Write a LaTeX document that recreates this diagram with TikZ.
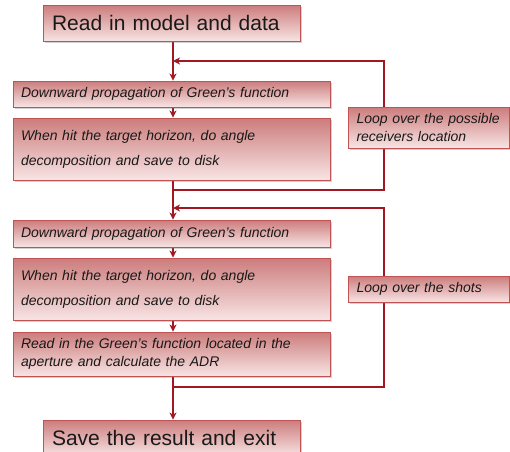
\documentclass[tikz,border=0pt]{standalone}
\usepackage{fontspec}
\setmainfont{Liberation Sans}
\usetikzlibrary{arrows.meta,shadows,backgrounds}
\definecolor{boxtop}{RGB}{204,124,124}
\definecolor{boxbot}{RGB}{248,228,228}
\definecolor{boxline}{RGB}{192,84,84}
\definecolor{conn}{RGB}{162,24,34}
\definecolor{txt}{RGB}{25,25,25}
\tikzset{
  box/.style={draw=boxline, line width=0.9pt, top color=boxtop, bottom color=boxbot,
    drop shadow={shadow xshift=1.5pt, shadow yshift=-1.5pt, opacity=0.3, fill=black!60},
    anchor=center, text=txt, align=left, inner ysep=2pt},
  bigbox/.style={box, minimum width=257pt, text width=239pt, inner xsep=9pt, minimum height=36pt,
    font=\fontsize{21}{25}\selectfont},
  smallbox/.style={box, minimum width=317pt, text width=301pt, inner xsep=8pt,
    font=\fontsize{14}{17.5}\selectfont\itshape},
  tallbox/.style={smallbox, font=\fontsize{14}{25}\selectfont\itshape},
  loopbox/.style={box, minimum width=161pt, text width=145pt, inner xsep=8pt,
    font=\fontsize{14}{17.5}\selectfont\itshape},
  conline/.style={draw=conn, line width=1.8pt},
  arr/.style={conline, -{Stealth[length=7pt,width=7pt,inset=2pt]}}
}
\begin{document}
\begin{tikzpicture}[x=1pt,y=-1pt]
\useasboundingbox (0,0) rectangle (510,451);
% nodes
\node[bigbox] (read) at (171.5,23) {Read in model and data};
\node[smallbox, minimum height=26pt] (dp1) at (171.5,94) {Downward propagation of Green's function};
\node[tallbox, minimum height=62pt] (hit1) at (171.5,149) {When hit the target horizon, do angle\\decomposition and save to disk};
\node[loopbox, minimum height=41pt] (loop1) at (429,127.5) {Loop over the possible\\receivers location};
\node[smallbox, minimum height=27pt] (dp2) at (171.5,233.5) {Downward propagation of Green's function};
\node[tallbox, minimum height=62pt] (hit2) at (171.5,289) {When hit the target horizon, do angle\\decomposition and save to disk};
\node[smallbox, minimum height=44pt] (rd) at (171.5,354) {Read in the Green's function located in the\\aperture and calculate the ADR};
\node[loopbox, minimum height=26pt] (loop2) at (429,289) {Loop over the shots};
\node[bigbox] (save) at (171.5,438) {Save the result and exit};
% junction coordinates
\coordinate (a1) at (173,61);
\coordinate (j1) at (173,190);
\coordinate (r1) at (384,190);
\coordinate (t1) at (384,61);
\coordinate (a2) at (173,208);
\coordinate (j2) at (173,387);
\coordinate (r2) at (384,387);
\coordinate (t2) at (384,208);
\begin{scope}[on background layer]
\draw[arr] (read.south -| a1) -- (dp1.north -| a1);
\draw[arr] (dp1.south -| a1) -- (hit1.north -| a1);
\draw[arr] (hit1.south -| a1) -- (dp2.north -| a1);
\draw[arr] (j1) -- (r1) -- (t1) -- (a1);
\draw[arr] (dp2.south -| a1) -- (hit2.north -| a1);
\draw[arr] (hit2.south -| a1) -- (rd.north -| a1);
\draw[arr] (rd.south -| a1) -- (save.north -| a1);
\draw[arr] (j2) -- (r2) -- (t2) -- (a2);
\end{scope}
\end{tikzpicture}
\end{document}
